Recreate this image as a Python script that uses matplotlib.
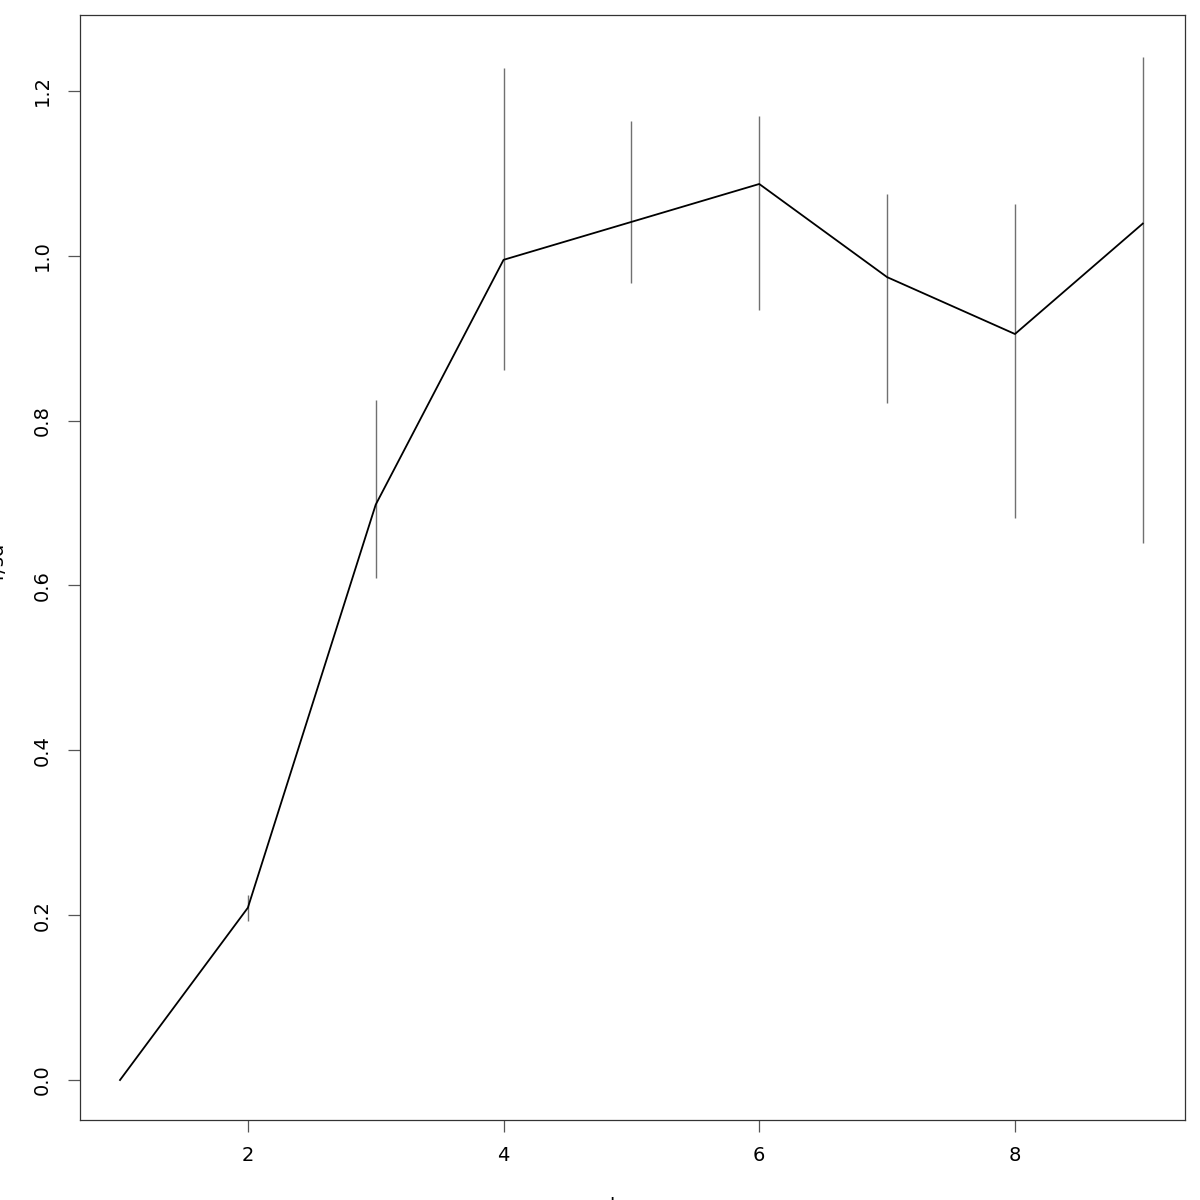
import numpy as np
import matplotlib
matplotlib.use('Agg')
import matplotlib.pyplot as plt

# values
k = [1, 2, 3, 4, 5, 6, 7, 8, 9]
mean_val = [0.0, 0.209, 0.698, 0.995, 1.041, 1.087, 0.974, 0.905, 1.039]
err_lo = [0.0, 0.193, 0.609, 0.861, 0.967, 0.934, 0.821, 0.682, 0.652]
err_hi = [0.0, 0.224, 0.825, 1.228, 1.164, 1.170, 1.075, 1.063, 1.241]
x_ticks = [2, 4, 6, 8]
y_ticks = [0.0, 0.2, 0.4, 0.6, 0.8, 1.0, 1.2]

fig = plt.figure(figsize=(12, 12), dpi=100)
ax = fig.add_axes([80 / 1200, 1 - 1120 / 1200, 1105 / 1200, 1105 / 1200])

# error bars (grey vertical segments), skip the zero-width first one
ax.vlines(k[1:], err_lo[1:], err_hi[1:], color='#707070', linewidth=1.0)
ax.plot(k, mean_val, color='black', linewidth=1.3)

ax.set_xlim(0.687, 9.33)
ax.set_ylim(-0.0485, 1.292)
ax.set_xticks(x_ticks)
ax.set_xticklabels([str(v) for v in x_ticks])
ax.set_yticks(y_ticks)
ax.set_yticklabels(['%.1f' % v for v in y_ticks], rotation=90, va='center')

for s in ax.spines.values():
    s.set_color('#333333')
    s.set_linewidth(0.9)
ax.tick_params(direction='out', length=8.6, width=0.9, color='#555555',
               labelsize=14, pad=10)
ax.tick_params(axis='y', pad=12)

# axis titles, mostly off the canvas as in the reference
fig.text(0.5125, 1 - 1197 / 1200, 'k', fontsize=14, ha='center', va='top')
fig.text(6 / 1200, 1 - 560 / 1200, 'r/sd', fontsize=14, rotation=90,
         ha='right', va='center')

fig.savefig('out.png', dpi=100)
